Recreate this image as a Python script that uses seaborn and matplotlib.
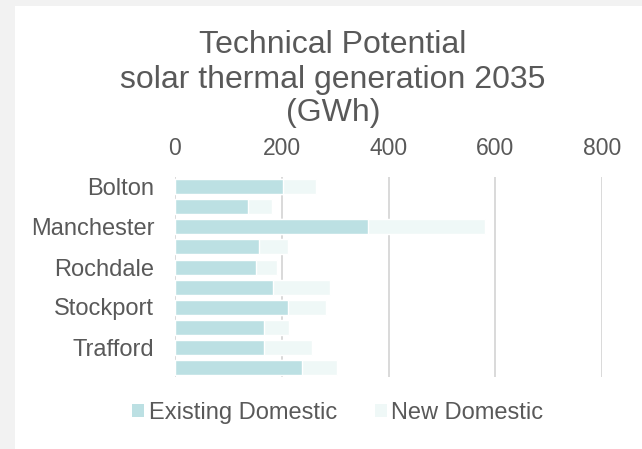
import matplotlib
matplotlib.use("Agg")
import matplotlib.pyplot as plt
from matplotlib.patches import Patch, Rectangle
import seaborn as sns
import pandas as pd

districts = ["Bolton", "Bury", "Manchester", "Oldham", "Rochdale",
             "Salford", "Stockport", "Tameside", "Trafford", "Wigan"]
existing_domestic = [203, 136, 361, 157, 151, 183, 211, 166, 166, 238]
new_domestic = [61, 45, 219, 55, 40, 107, 71, 47, 90, 65]
x_ticks = [0, 200, 400, 600, 800]

existing_color = "#BCE0E3"
new_color = "#EFF8F7"
text_color = "#595959"

df = pd.DataFrame({
    "district": districts,
    "existing": existing_domestic,
    "new": new_domestic,
})
df["total"] = df["existing"] + df["new"]

sns.set_theme(style="white")
plt.rcParams["font.family"] = ["Liberation Sans", "DejaVu Sans"]

fig = plt.figure(figsize=(6.42, 4.49), dpi=100)
fig.patch.set_facecolor("#F2F2F2")
fig.add_artist(Rectangle((15 / 642, 0), 1 - 15 / 642, 1 - 6 / 449,
                         transform=fig.transFigure, facecolor="white",
                         edgecolor="none", zorder=0))

ax = fig.add_axes([175 / 642, 1 - 377 / 449, 427 / 642, 200 / 449])
ax.set_facecolor("none")

# stacked bars: full total in the light colour, existing share on top
sns.barplot(data=df, y="district", x="total", orient="h", color=new_color,
            saturation=1, width=0.75, ax=ax, zorder=2)
sns.barplot(data=df, y="district", x="existing", orient="h", color=existing_color,
            saturation=1, width=0.75, ax=ax, zorder=3)

ax.set_xlim(0, 800)
ax.set_ylim(len(districts) - 0.5, -0.5)
ax.set_xticks(x_ticks)
ax.xaxis.tick_top()
ax.tick_params(axis="x", length=0, pad=12, labelsize=16.5, labelcolor=text_color)
ax.set_yticks(range(0, len(districts), 2))
ax.set_yticklabels(districts[::2])
ax.tick_params(axis="y", length=0, pad=15, labelsize=17, labelcolor=text_color)
ax.set_xlabel("")
ax.set_ylabel("")
ax.grid(axis="x", color="#D9D9D9", linewidth=1.4)
ax.set_axisbelow(True)
for s in ax.spines.values():
    s.set_visible(False)

title_lines = ["Technical Potential", "solar thermal generation 2035", "(GWh)"]
for line, ypix in zip(title_lines, [45, 80, 113]):
    fig.text(333 / 642, 1 - ypix / 449, line, ha="center", va="center",
             fontsize=23, color=text_color)

handles = [Patch(facecolor=existing_color, edgecolor="none", label="Existing Domestic"),
           Patch(facecolor=new_color, edgecolor="none", label="New Domestic")]
fig.legend(handles=handles, loc="center", bbox_to_anchor=(338 / 642, 1 - 413 / 449),
           ncol=2, frameon=False, fontsize=17, labelcolor=text_color,
           handlelength=0.5, handleheight=0.5, handletextpad=0.2,
           columnspacing=1.6)

fig.savefig("out.png", dpi=100, facecolor=fig.get_facecolor())
